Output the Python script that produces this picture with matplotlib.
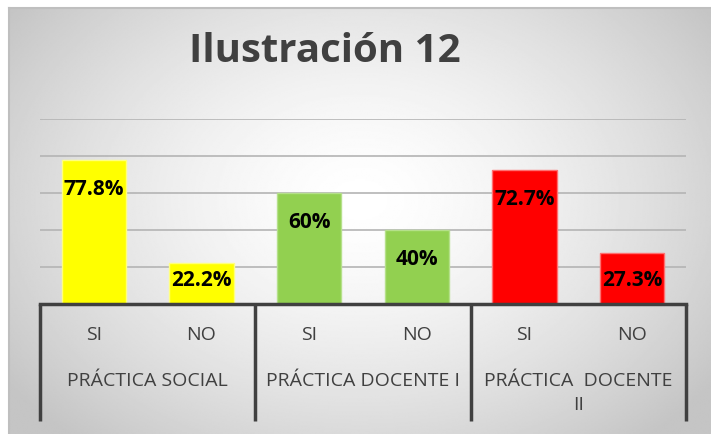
import matplotlib
matplotlib.use('Agg')
import matplotlib.pyplot as plt
import matplotlib.transforms as mtransforms
import numpy as np

plt.rcParams['font.family'] = ['Open Sans', 'DejaVu Sans']

groups = ['PRÁCTICA SOCIAL', 'PRÁCTICA DOCENTE I', 'PRÁCTICA  DOCENTE\nII']
answers = ['SI', 'NO']
values = [0.778, 0.222, 0.60, 0.40, 0.727, 0.273]
labels = ['77.8%', '22.2%', '60%', '40%', '72.7%', '27.3%']
colors = ['#FFFF00', '#FFFF00', '#92D050', '#92D050', '#FF0000', '#FF0000']
edges = ['#FFFF80', '#FFFF80', '#B5E08A', '#B5E08A', '#FF7070', '#FF7070']

W, H = 711, 434
fig = plt.figure(figsize=(W / 100, H / 100), dpi=100)
fig.patch.set_facecolor('white')

# radial grey -> white background of chart area
bg = fig.add_axes([9 / W, 0, 1 - 9 / W, (H - 8) / H], zorder=-5)
yy, xx = np.mgrid[0:1:300j, 0:1:500j]
r = np.sqrt(((xx - 0.5) / 0.62) ** 2 + ((yy - 0.45) / 0.75) ** 2)
img = 1 - 0.23 * np.clip(r, 0, 1) ** 1.5
bg.imshow(img, cmap='gray', vmin=0, vmax=1, aspect='auto', extent=[0, 1, 0, 1],
          interpolation='bilinear')
bg.set_xticks([])
bg.set_yticks([])
for s in ['right', 'bottom']:
    bg.spines[s].set_visible(False)
for s in ['left', 'top']:
    bg.spines[s].set_color('#bfbfbf')
    bg.spines[s].set_linewidth(1.5)

ax = fig.add_axes([40 / W, (H - 304) / H, 646 / W, 185 / H])
ax.patch.set_alpha(0)
x = np.arange(len(values))
ax.bar(x, values, width=0.6, color=colors, edgecolor=edges, linewidth=1, zorder=3)
ax.set_xlim(-0.5, len(values) - 0.5)
ax.set_ylim(0, 1.0)
ax.set_yticks([0.2, 0.4, 0.6, 0.8, 1.0])
ax.yaxis.grid(True, color='#b4b4b4', linewidth=1.2, zorder=0)
ax.tick_params(left=False, labelleft=False, bottom=False, labelbottom=False)
for s in ['left', 'right', 'top']:
    ax.spines[s].set_visible(False)
ax.spines['bottom'].set_color('#404040')
ax.spines['bottom'].set_linewidth(2.5)
ax.spines['bottom'].set_zorder(4)

for xi, v, lab in zip(x, values, labels):
    ax.text(xi, max(v - 0.16, 0.125), lab, ha='center', va='center',
            fontsize=15, fontweight='bold', color='black', zorder=5)

trans = mtransforms.blended_transform_factory(ax.transData, ax.transAxes)
for xs in [-0.5, 1.5, 3.5, 5.5]:
    ax.plot([xs, xs], [0, -0.63], transform=trans, color='#404040',
            linewidth=2.5, clip_on=False, solid_capstyle='butt')

for i, xi in enumerate(x):
    ax.text(xi, -0.17, answers[i % 2], transform=trans, ha='center', va='center',
            fontsize=14, color='#404040')
for g, name in enumerate(groups):
    ax.text(2 * g + 0.5, -0.37, name, transform=trans, ha='center', va='top',
            fontsize=14, color='#404040', linespacing=1.4)

fig.text(325 / W, 1 - 52 / H, 'Ilustración 12', ha='center', va='center',
         fontsize=29, fontweight='bold', color='#404040')

fig.savefig('out.png', dpi=100)
